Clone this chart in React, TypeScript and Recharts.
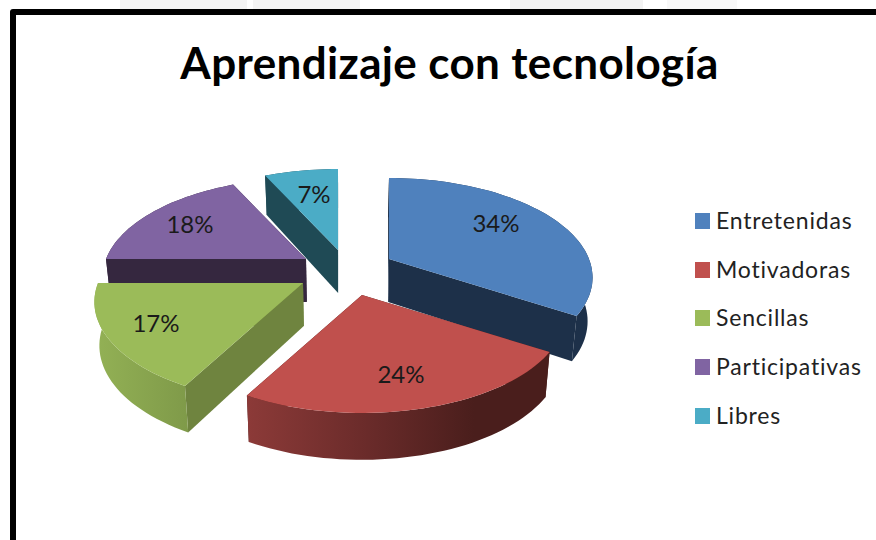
import { PieChart, Pie, Legend } from "recharts";

const categories = ["Entretenidas", "Motivadoras", "Sencillas", "Participativas", "Libres"];
const values = [34, 24, 17, 18, 7];
const colors = ["#4f81bd", "#c0504d", "#9bbb59", "#8064a2", "#4bacc6"];

const datos = categories.map((name, i) => ({ name, value: values[i], fill: colors[i] }));

// looks of the tilted pie
const TILT = 0.48;
const PERSP = 0.186;
const DEPTH = 43;
const CX = 345;
const CY = 273;
const RADIO = 200;
const ESCALA = [1, 1, 1.025, 1, 1];
const DESPLAZA = [[44, -14], [17, 22], [-42, 10], [-39, -14], [-7, -23]];
const ETIQUETA = [[107, -37], [39, 78], [-147, 39], [-116, -36], [-24, -57]];
const CARA_CORTE = ["#1d3049", "#4a1e1c", "#6f843f", "#35273f", "#1f4a55"];
const RIM_STOPS = [
  [["0%", "#1d3049"], ["100%", "#1d3049"]],
  [["0%", "#8c3a38"], ["40%", "#6a2b2a"], ["75%", "#4a1e1c"], ["100%", "#4a1e1c"]],
  [["0%", "#93b155"], ["100%", "#7f9a49"]],
  [["0%", "#35273f"], ["100%", "#35273f"]],
  [["0%", "#1f4a55"], ["100%", "#1f4a55"]],
];

const RAD = Math.PI / 180;

type P = [number, number];

function proyecta(deg: number, r: number, R: number, i: number): { top: P; bottom: P } {
  const ux = Math.cos(deg * RAD) * r;
  const fwd = -Math.sin(deg * RAD) * r;
  const s = 1 / (1 - PERSP * fwd);
  const x = CX + DESPLAZA[i][0] + ux * R * ESCALA[i] * s;
  const y = CY + DESPLAZA[i][1] + fwd * R * ESCALA[i] * TILT * s;
  const d = DEPTH * (1 + 0.09 * fwd);
  return { top: [x, y], bottom: [CX + (x - CX) * 0.98, y + d] };
}

const poly = (pts: P[]) => pts.map((p, i) => `${i ? "L" : "M"}${p[0].toFixed(1)},${p[1].toFixed(1)}`).join(" ") + " Z";

function Rebanada({ props, index, capa }: { props: any; index: number; capa: number[] }) {
  if (!capa.includes(index)) return <g />;
  const { startAngle, endAngle, outerRadius, fill } = props;
  const arco: { top: P; bottom: P }[] = [];
  const pasos = Math.max(4, Math.ceil(Math.abs(endAngle - startAngle) / 2));
  for (let k = 0; k <= pasos; k++) {
    arco.push(proyecta(startAngle + ((endAngle - startAngle) * k) / pasos, 1, outerRadius, index));
  }
  const centro = proyecta(0, 0, outerRadius, index);
  const a = arco[0];
  const b = arco[arco.length - 1];
  const muro = (q: { top: P; bottom: P }) => poly([centro.top, q.top, q.bottom, centro.bottom]);
  // the cut face nearer the viewer goes on top
  const cortes = a.top[1] < b.top[1] ? [a, b] : [b, a];
  const rim = poly([...arco.map((q) => q.top), ...[...arco].reverse().map((q) => q.bottom)]);
  const cara = poly([centro.top, ...arco.map((q) => q.top)]);
  const id = `rim-${index}`;
  return (
    <g>
      <defs>
        <linearGradient id={id} x1="0" y1="0" x2="1" y2="0">
          {RIM_STOPS[index].map(([o, c]) => (
            <stop key={o} offset={o} stopColor={c} />
          ))}
        </linearGradient>
      </defs>
      {cortes.map((q, k) => (
        <path key={k} d={muro(q)} fill={CARA_CORTE[index]} />
      ))}
      <path d={rim} fill={`url(#${id})`} />
      <path d={cara} fill={fill} />
    </g>
  );
}

function etiqueta(props: any) {
  const i = props.index;
  const c = proyecta(0, 0, RADIO, i).top;
  return (
    <text
      x={c[0] + ETIQUETA[i][0]}
      y={c[1] + ETIQUETA[i][1]}
      textAnchor="middle"
      dominantBaseline="central"
      fontFamily="Lato"
      fontSize={24}
      fill="#1a1a1a"
    >
      {props.value}%
    </text>
  );
}

function Leyenda() {
  return (
    <div>
      {categories.map((c, i) => (
        <div key={c} style={{ height: 48.6, display: "flex", alignItems: "center" }}>
          <span style={{ width: 15, height: 16, background: colors[i], marginRight: 6 }} />
          <span style={{ fontFamily: "Lato", fontSize: 23, color: "#222", letterSpacing: 0.8, position: "relative", top: -1 }}>{c}</span>
        </div>
      ))}
    </div>
  );
}

const parches = [[120, 127, "#f4f4f4"], [253, 107, "#f4f4f4"], [510, 133, "#f3f3f3"], [667, 70, "#f8f8f8"]] as const;

export default function App() {
  return (
    <div style={{ position: "fixed", left: 0, top: 0, width: 876, height: 540, overflow: "hidden", background: "#fff" }}>
      {parches.map(([x, w, c]) => (
        <div key={x} style={{ position: "absolute", left: x, top: 0, width: w, height: 10, background: c }} />
      ))}
      <div
        style={{
          position: "absolute",
          left: 10,
          top: 9,
          width: 900,
          height: 560,
          border: "6.5px solid #000",
          borderRadius: 3,
          boxSizing: "border-box",
        }}
      />
      <div
        style={{
          position: "absolute",
          left: 0,
          top: 34,
          width: 899,
          textAlign: "center",
          fontFamily: "Lato",
          fontWeight: 700,
          fontSize: 44,
          letterSpacing: 0.36,
          lineHeight: "56px",
          color: "#000",
        }}
      >
        Aprendizaje con tecnología
      </div>
      <div style={{ position: "absolute", left: 0, top: 0 }}>
        <PieChart width={876} height={540} margin={{ top: 0, right: 0, bottom: 0, left: 0 }}>
          <Pie
            data={datos}
            dataKey="value"
            nameKey="name"
            cx={CX}
            cy={CY}
            outerRadius={RADIO}
            startAngle={90}
            endAngle={-270}
            stroke="none"
            isAnimationActive={false}
            shape={(p: any, i: number) => <Rebanada props={p} index={i} capa={[3, 4]} />}
          />
          <Pie
            data={datos}
            dataKey="value"
            nameKey="name"
            cx={CX}
            cy={CY}
            outerRadius={RADIO}
            startAngle={90}
            endAngle={-270}
            stroke="none"
            isAnimationActive={false}
            labelLine={false}
            label={etiqueta}
            shape={(p: any, i: number) => <Rebanada props={p} index={i} capa={[0, 1, 2]} />}
          />
          <Legend
            layout="vertical"
            align="left"
            verticalAlign="top"
            content={<Leyenda />}
            wrapperStyle={{ position: "absolute", left: 695, top: 197, width: 175 }}
          />
        </PieChart>
      </div>
    </div>
  );
}
